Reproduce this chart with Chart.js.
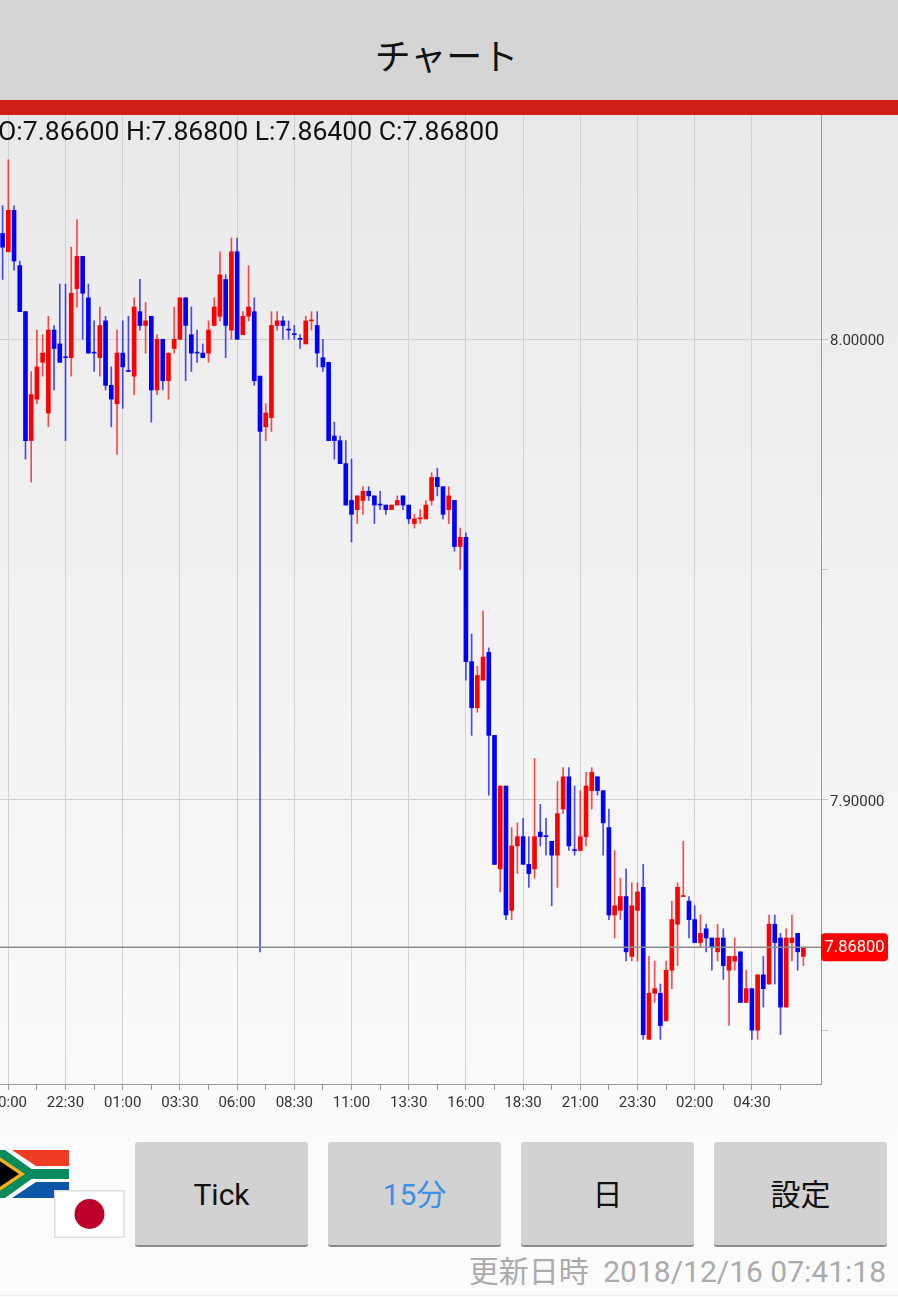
<!DOCTYPE html>
<html lang="ja">
<head>
<meta charset="utf-8">
<title>チャート</title>
<script src="https://cdn.jsdelivr.net/npm/chart.js@4"></script>
<style>
  html, body { margin: 0; padding: 0; background: #fbfbfb; }
  #page { position: relative; width: 898px; height: 1297px; overflow: hidden; font-family: Roboto, "Noto Sans CJK JP", sans-serif; }
  #titlebar { position: absolute; left: 0; top: 0; width: 893px; padding-right: 5px; height: 100px; background: #d5d5d5; color: #111; text-align: center; font: 36px/108px "Noto Sans CJK JP", sans-serif; }
  #redbar { position: absolute; left: 0; top: 100px; width: 898px; height: 15px; background: #d01f14; }
  #backdrop { position: absolute; left: 0; top: 115px; width: 898px; height: 1020px; background: linear-gradient(#e9e9e9, #fbfbfb); }
  #chart { position: absolute; left: 0; top: 115px; }
  #ohlc { position: absolute; left: -2px; top: 115px; font-size: 26.6px; line-height: 32px; color: #111; white-space: nowrap; }
  .btn { position: absolute; top: 1142px; width: 173px; height: 103px; background: #d2d2d2; border-bottom: 2px solid #8a8a8a; border-radius: 3px; text-align: center; line-height: 105px; font-size: 30px; color: #111; }
  #updated { position: absolute; right: 12px; top: 1254px; font-size: 30px; line-height: 36px; color: #ababab; white-space: pre; }
  #updated span { margin-right: 7px; }
  #bottomline { position: absolute; left: 0; top: 1295px; width: 898px; height: 1px; background: #ececec; }
  svg { position: absolute; }
</style>
</head>
<body>
<div id="page">
  <div id="backdrop"></div>
  <canvas id="chart" width="898" height="1015"></canvas>
  <div id="titlebar">チャート</div>
  <div id="redbar"></div>
  <div id="ohlc">O:7.86600 H:7.86800 L:7.86400 C:7.86800</div>

  <!-- 通貨ペアの国旗 -->
  <svg style="left:0;top:1150px" width="69" height="48" viewBox="0 0 69 48">
    <rect width="69" height="48" fill="#fff"/>
    <polygon points="12,0 69,0 69,16 36,16" fill="#f03c24"/>
    <polygon points="12,48 69,48 69,32 36,32" fill="#0a56a8"/>
    <polyline points="-12,-6 30,24 -12,54" fill="none" stroke="#fff" stroke-width="15"/>
    <polyline points="-12,-6 30,24 69,24" fill="none" stroke="#078a5c" stroke-width="10"/>
    <polyline points="-12,54 30,24" fill="none" stroke="#078a5c" stroke-width="10"/>
    <polygon points="-8,2 25,24 -8,46" fill="#f5b120"/>
    <polygon points="-8,6 19,24 -8,42" fill="#000"/>
  </svg>
  <svg style="left:54px;top:1190px" width="71" height="48" viewBox="0 0 71 48">
    <rect x="0.75" y="0.75" width="69.5" height="46.5" fill="#fff" stroke="#dcdcdc" stroke-width="1.5"/>
    <circle cx="35.5" cy="24" r="15" fill="#bc0029"/>
  </svg>

  <div class="btn" style="left:135px">Tick</div>
  <div class="btn" style="left:328px;color:#3d8fe8">15分</div>
  <div class="btn" style="left:521px">日</div>
  <div class="btn" style="left:714px">設定</div>
  <div id="updated"><span>更新日時</span> 2018/12/16 07:41:18</div>
  <div id="bottomline"></div>
</div>

<script>
// 15分足 (indice 0 = 19:45)
const opens = [
  8.023,8.019,8.028,8.016,8.006,7.978,7.987,7.995,7.984,8.002,
  7.999,7.996,7.996,8.011,8.018,8.009,7.997,7.996,8.004,7.990,
  7.986,7.997,7.993,7.992,8.006,8.003,8.005,7.989,8.000,7.991,
  7.998,8.000,8.009,8.001,7.997,7.997,7.997,8.003,8.005,8.013,
  8.002,8.019,8.001,8.005,8.006,7.992,7.981,7.983,8.003,8.004,
  8.002,8.001,8.000,7.999,8.004,8.003,7.996,7.995,7.979,7.978,
  7.973,7.965,7.963,7.965,7.967,7.966,7.964,7.964,7.963,7.964,
  7.966,7.964,7.960,7.961,7.961,7.965,7.970,7.968,7.963,7.965,
  7.955,7.957,7.930,7.920,7.926,7.932,7.914,7.885,7.903,7.876,
  7.890,7.892,7.886,7.885,7.893,7.892,7.891,7.888,7.898,7.905,
  7.889,7.889,7.892,7.902,7.905,7.902,7.894,7.875,7.876,7.879,
  7.866,7.876,7.881,7.848,7.858,7.858,7.852,7.863,7.873,7.879,
  7.878,7.874,7.869,7.872,7.870,7.867,7.870,7.863,7.865,7.867,
  7.856,7.859,7.850,7.862,7.860,7.873,7.870,7.855,7.869,7.871,7.866
];
const highs = [
  8.029,8.039,8.029,8.017,8.006,7.993,8.002,8.001,8.005,8.003,
  8.012,8.012,8.020,8.026,8.018,8.012,8.004,8.007,8.005,7.994,
  8.002,8.004,8.005,8.009,8.013,8.008,8.005,8.001,8.000,7.997,
  8.007,8.009,8.009,8.007,8.002,7.999,8.004,8.009,8.019,8.014,
  8.022,8.022,8.006,8.016,8.009,7.992,7.986,8.006,8.006,8.005,
  8.004,8.003,8.001,8.005,8.006,8.006,8.000,7.995,7.982,7.979,
  7.978,7.974,7.966,7.968,7.968,7.966,7.967,7.964,7.964,7.966,
  7.966,7.964,7.962,7.963,7.965,7.971,7.972,7.968,7.968,7.965,
  7.959,7.958,7.936,7.929,7.941,7.933,7.914,7.903,7.903,7.894,
  7.895,7.896,7.892,7.909,7.899,7.896,7.891,7.904,7.907,7.907,
  7.903,7.902,7.906,7.907,7.905,7.902,7.898,7.889,7.883,7.885,
  7.882,7.882,7.886,7.866,7.865,7.860,7.865,7.878,7.882,7.891,
  7.879,7.877,7.875,7.873,7.870,7.873,7.872,7.866,7.870,7.867,
  7.863,7.859,7.862,7.866,7.875,7.875,7.871,7.872,7.875,7.871,7.868
];
const lows = [
  8.013,8.019,8.015,8.006,7.974,7.969,7.986,7.992,7.981,7.989,
  7.995,7.978,7.992,8.007,8.000,7.997,7.993,7.992,7.989,7.981,
  7.975,7.985,7.993,7.988,8.002,7.997,7.982,7.988,7.989,7.987,
  7.997,8.000,7.991,7.993,7.995,7.996,7.995,8.003,8.004,7.996,
  8.000,8.000,8.001,8.004,7.990,7.867,7.978,7.980,8.002,8.000,
  8.000,8.000,7.998,7.999,8.002,7.994,7.993,7.978,7.974,7.973,
  7.964,7.956,7.960,7.962,7.965,7.960,7.963,7.962,7.963,7.964,
  7.963,7.960,7.959,7.960,7.961,7.964,7.966,7.961,7.960,7.954,
  7.950,7.926,7.914,7.919,7.926,7.901,7.886,7.880,7.874,7.874,
  7.884,7.886,7.881,7.883,7.890,7.888,7.877,7.881,7.897,7.889,
  7.888,7.889,7.890,7.898,7.901,7.888,7.874,7.870,7.874,7.865,
  7.865,7.865,7.848,7.848,7.856,7.848,7.852,7.859,7.864,7.879,
  7.870,7.869,7.868,7.867,7.863,7.865,7.861,7.851,7.863,7.856,
  7.856,7.848,7.848,7.855,7.860,7.860,7.849,7.855,7.865,7.863,7.864
];
const closes = [
  8.020,8.028,8.017,8.006,7.978,7.988,7.994,7.997,8.002,7.998,
  7.995,7.996,8.010,8.018,8.010,7.997,7.997,8.003,7.990,7.987,
  7.997,7.994,7.993,8.007,8.003,8.004,7.989,8.000,7.991,7.997,
  8.000,8.009,8.003,7.997,7.997,7.996,8.002,8.007,8.014,8.003,
  8.019,8.000,8.005,8.007,7.991,7.980,7.984,8.003,8.004,8.003,
  8.002,8.001,8.000,8.004,8.004,7.997,7.994,7.978,7.978,7.973,
  7.964,7.962,7.966,7.967,7.966,7.964,7.964,7.963,7.964,7.965,
  7.964,7.961,7.961,7.961,7.964,7.970,7.968,7.962,7.966,7.955,
  7.957,7.930,7.920,7.927,7.931,7.914,7.886,7.903,7.875,7.890,
  7.892,7.886,7.884,7.892,7.892,7.892,7.888,7.897,7.905,7.890,
  7.889,7.892,7.903,7.906,7.902,7.895,7.875,7.877,7.879,7.867,
  7.877,7.880,7.849,7.858,7.859,7.851,7.863,7.874,7.881,7.879,
  7.874,7.869,7.871,7.870,7.868,7.870,7.864,7.866,7.866,7.856,
  7.859,7.850,7.862,7.859,7.873,7.869,7.855,7.870,7.870,7.867,7.868
];
// 始値と終値が同じで赤く描かれている足
const redDoji = [54, 73, 119];

const xTickIndex = [1,6,11,16,21,26,31,36,41,46,51,56,61,66,71,76,81,86,91,96,101,106,111,116,121,126,131,136];
const xTickLabels = ["20:00","","22:30","","01:00","","03:30","","06:00","","08:30","","11:00","","13:30","","16:00","","18:30","","21:00","","23:30","","02:00","","04:30",""];
const yTicks = [7.85, 7.90, 7.95, 8.00];
const yLabelled = [7.90, 8.00];
const lastPrice = 7.868;

const isUp = opens.map((o, i) => closes[i] > o || redDoji.includes(i));
const bodyColor = isUp.map(up => up ? "#ff0000" : "#0000ff");
const wickColor = isUp.map(up => up ? "rgba(255,0,0,0.7)" : "rgba(0,0,255,0.7)");

// 現在値の線と右端の赤いラベル
const lastPricePlugin = {
  id: "lastPrice",
  afterDatasetsDraw(chart) {
    const { ctx, chartArea, scales } = chart;
    const y = scales.y.getPixelForValue(lastPrice);
    ctx.save();
    ctx.strokeStyle = "#8c8c8c";
    ctx.lineWidth = 1.5;
    ctx.beginPath();
    ctx.moveTo(chartArea.left, y);
    ctx.lineTo(chartArea.right, y);
    ctx.stroke();
    ctx.fillStyle = "#ff0000";
    ctx.beginPath();
    ctx.roundRect(chartArea.right, y - 14, 67, 28, 4);
    ctx.fill();
    ctx.fillStyle = "#ffffff";
    ctx.font = "16.5px Roboto";
    ctx.textAlign = "center";
    ctx.textBaseline = "middle";
    ctx.fillText(lastPrice.toFixed(5), chartArea.right + 33.5, y + 0.5);
    ctx.restore();
  }
};

new Chart(document.getElementById("chart"), {
  type: "bar",
  plugins: [lastPricePlugin],
  data: {
    datasets: [
      {
        label: "body",
        data: opens.map((o, i) => ({ x: i, y: [Math.min(o, closes[i]), Math.max(o, closes[i])] })),
        backgroundColor: bodyColor,
        barThickness: 4,
        minBarLength: 1,
        grouped: false,
        order: 1
      },
      {
        label: "wick",
        data: highs.map((h, i) => ({ x: i, y: [lows[i], h] })),
        backgroundColor: wickColor,
        barThickness: 1,
        grouped: false,
        order: 2
      }
    ]
  },
  options: {
    responsive: false,
    animation: false,
    devicePixelRatio: 1,
    layout: { padding: 0 },
    plugins: { legend: { display: false }, tooltip: { enabled: false } },
    scales: {
      x: {
        type: "linear",
        offset: false,
        min: -0.4545,
        max: 143.08,
        afterBuildTicks: scale => { scale.ticks = xTickIndex.map(v => ({ value: v })); },
        afterFit: scale => { scale.height = 46; scale.paddingLeft = 0; scale.paddingRight = 0; },
        border: { color: "#9a9a9a", width: 1 },
        grid: {
          offset: false,
          color: ctx => (ctx.tick && xTickLabels[xTickIndex.indexOf(ctx.tick.value)]) ? "#d0d0d0" : "rgba(0,0,0,0)",
          tickColor: "#9a9a9a",
          tickLength: 6
        },
        ticks: {
          autoSkip: false,
          maxRotation: 0,
          padding: 4,
          color: "#333",
          font: { family: "Roboto", size: 15 },
          callback: v => xTickLabels[xTickIndex.indexOf(v)]
        }
      },
      y: {
        position: "right",
        min: 7.8383,
        max: 8.0487,
        afterBuildTicks: scale => { scale.ticks = yTicks.map(v => ({ value: v })); },
        afterFit: scale => { scale.width = 77; scale.paddingTop = 0; scale.paddingBottom = 0; },
        border: { color: "#9a9a9a", width: 1 },
        grid: {
          color: ctx => (ctx.tick && yLabelled.includes(ctx.tick.value)) ? "#d0d0d0" : "rgba(0,0,0,0)",
          tickColor: "#c4c4c4",
          tickLength: 7
        },
        ticks: {
          padding: 2,
          labelOffset: 2,
          color: "#333",
          font: { family: "Roboto", size: 15 },
          callback: v => yLabelled.includes(v) ? v.toFixed(5) : ""
        }
      }
    }
  }
});
</script>
</body>
</html>
